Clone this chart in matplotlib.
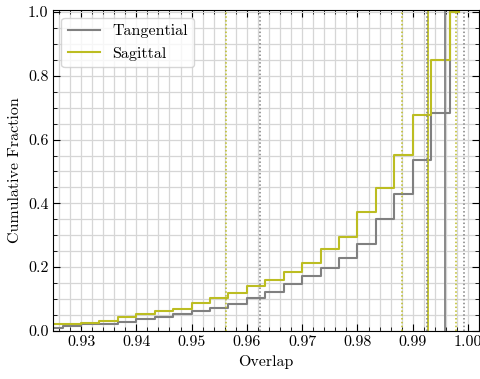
import numpy as np
import matplotlib
matplotlib.use('Agg')
import matplotlib.pyplot as plt
from matplotlib.ticker import MultipleLocator

plt.rcParams['font.family'] = 'serif'
plt.rcParams['font.serif'] = ['cmr10']
plt.rcParams['mathtext.fontset'] = 'cm'
plt.rcParams['axes.formatter.use_mathtext'] = True

# bin edges (width 1/300) and cumulative fractions
edges = np.linspace(0.92333, 1.0, 24)
tangential = [0.010, 0.015, 0.020, 0.023, 0.028, 0.037, 0.044, 0.053, 0.061, 0.071,
              0.084, 0.104, 0.121, 0.146, 0.172, 0.198, 0.228, 0.274, 0.350, 0.429,
              0.535, 0.684, 1.0]
sagittal = [0.020, 0.022, 0.026, 0.030, 0.044, 0.052, 0.062, 0.070, 0.087, 0.103,
            0.120, 0.140, 0.160, 0.185, 0.212, 0.256, 0.293, 0.372, 0.447, 0.552,
            0.677, 0.850, 1.0]
x_end = 0.9984

# median (solid) and interval bounds (dotted)
tan_median = 0.9959
tan_bounds = [0.9623, 0.9926, 0.9992]
sag_median = 0.9927
sag_bounds = [0.9563, 0.9881, 0.9978]

c_tan = '#808080'
c_sag = '#bcbd22'

fig = plt.figure(figsize=(4.81, 3.79), dpi=100)
ax = fig.add_axes([0.111, 0.127, 0.885, 0.847])

xs = np.append(edges[:-1], x_end)
ax.step(xs, np.append(tangential, tangential[-1]), where='post', color=c_tan, lw=1.5, label='Tangential')
ax.step(xs, np.append(sagittal, sagittal[-1]), where='post', color=c_sag, lw=1.5, label='Sagittal')

ax.axvline(tan_median, color=c_tan, lw=1.3)
ax.axvline(sag_median, color=c_sag, lw=1.3)
for b in tan_bounds:
    ax.axvline(b, color=c_tan, lw=1.1, ls=(0, (1, 1.5)))
for b in sag_bounds:
    ax.axvline(b, color=c_sag, lw=1.1, ls=(0, (1, 1.5)))

ax.set_xlim(0.925, 1.002)
ax.set_ylim(0, 1.007)
ax.xaxis.set_major_locator(MultipleLocator(0.01))
ax.xaxis.set_minor_locator(MultipleLocator(0.002))
ax.yaxis.set_major_locator(MultipleLocator(0.2))
ax.yaxis.set_minor_locator(MultipleLocator(0.05))
ax.xaxis.set_major_formatter(matplotlib.ticker.FormatStrFormatter('%.2f'))
ax.yaxis.set_major_formatter(matplotlib.ticker.FormatStrFormatter('%.1f'))
ax.grid(which='both', color='#d6d6d6', lw=0.9)
ax.set_axisbelow(True)
ax.tick_params(which='both', direction='in', top=True, right=True, labelsize=11.5, color='black')
ax.tick_params(which='major', length=5)
ax.tick_params(which='minor', length=3)

ax.set_xlabel('Overlap', fontsize=11.5)
ax.set_ylabel('Cumulative Fraction', fontsize=11.5)
ax.legend(loc='upper left', fontsize=11.5)

plt.savefig('out.png')
